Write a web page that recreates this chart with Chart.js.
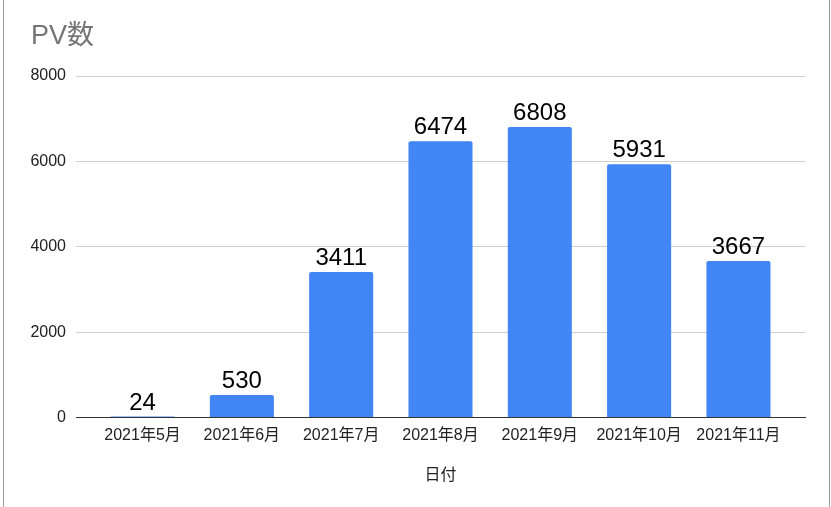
<!DOCTYPE html>
<html>
<head>
<meta charset="utf-8">
<script src="https://cdn.jsdelivr.net/npm/chart.js@4"></script>
<style>
  html, body { margin: 0; padding: 0; background: #fff; }
  #wrap { width: 831px; height: 507px; }
</style>
</head>
<body>
<div id="wrap"><canvas id="pvChart" width="831" height="507"></canvas></div>
<script>
// chart data
const months = ['2021年5月', '2021年6月', '2021年7月', '2021年8月', '2021年9月', '2021年10月', '2021年11月'];
const pvCounts = [24, 530, 3411, 6474, 6808, 5931, 3667];
const yTicks = [0, 2000, 4000, 6000, 8000];

const FONT = '"Liberation Sans", Arial, "Noto Sans CJK JP", sans-serif';

// white background, sheet borders and title
const framePlugin = {
    id: 'frame',
    beforeDraw(chart) {
        const c = chart.ctx;
        c.save();
        c.fillStyle = '#fff';
        c.fillRect(0, 0, chart.width, chart.height);
        c.strokeStyle = '#9e9e9e';
        c.lineWidth = 1;
        c.beginPath();
        c.moveTo(3.5, 0); c.lineTo(3.5, chart.height);
        c.moveTo(829.5, 0); c.lineTo(829.5, chart.height);
        c.stroke();
        c.fillStyle = '#757575';
        c.font = '27px ' + FONT;
        c.textBaseline = 'middle';
        c.fillText('PV数', 31, 37);
        c.restore();
    }
};

// value labels above bars
const valueLabels = {
    id: 'valueLabels',
    afterDatasetsDraw(chart) {
        const c = chart.ctx;
        const meta = chart.getDatasetMeta(0);
        c.save();
        c.fillStyle = '#000';
        c.font = '24px ' + FONT;
        c.textAlign = 'center';
        c.textBaseline = 'alphabetic';
        meta.data.forEach((bar, i) => {
            c.fillText(String(pvCounts[i]), bar.x, bar.y - 7);
        });
        c.restore();
    }
};

const ctx = document.getElementById('pvChart').getContext('2d');
const pvChart = new Chart(ctx, {
    type: 'bar',
    data: {
        datasets: [{
            label: 'PV数',
            data: pvCounts.map((v, i) => ({ x: i, y: v })),
            backgroundColor: '#4285f4',
            borderRadius: 2,
            borderSkipped: 'bottom',
            categoryPercentage: 1,
            barPercentage: 0.645
        }]
    },
    options: {
        responsive: false,
        animation: false,
        layout: { padding: { left: 0, right: 26, top: 76, bottom: 22 } },
        plugins: {
            legend: { display: false },
            tooltip: { enabled: false }
        },
        scales: {
            x: {
                type: 'linear',
                min: -0.67,
                max: 6.67,
                offset: false,
                afterBuildTicks(scale) {
                    scale.ticks = months.map((m, i) => ({ value: i }));
                },
                grid: { display: false, drawTicks: false, offset: false },
                border: { color: '#333', width: 1 },
                ticks: {
                    color: '#222',
                    font: { family: FONT, size: 16 },
                    padding: 8,
                    maxRotation: 0,
                    autoSkip: false,
                    callback: v => months[v]
                },
                title: { display: true, text: '日付', color: '#222', font: { family: FONT, size: 16 }, padding: { top: 13, bottom: 0 } }
            },
            y: {
                min: 0,
                max: 8000,
                afterBuildTicks(scale) {
                    scale.ticks = yTicks.map(v => ({ value: v }));
                },
                afterFit(scale) { scale.width = 76; },
                grid: { color: '#d0d0d0', drawTicks: false },
                border: { display: false },
                ticks: { color: '#222', font: { family: FONT, size: 16 }, padding: 10, callback: v => String(v) }
            }
        }
    },
    plugins: [framePlugin, valueLabels]
});
</script>
</body>
</html>
